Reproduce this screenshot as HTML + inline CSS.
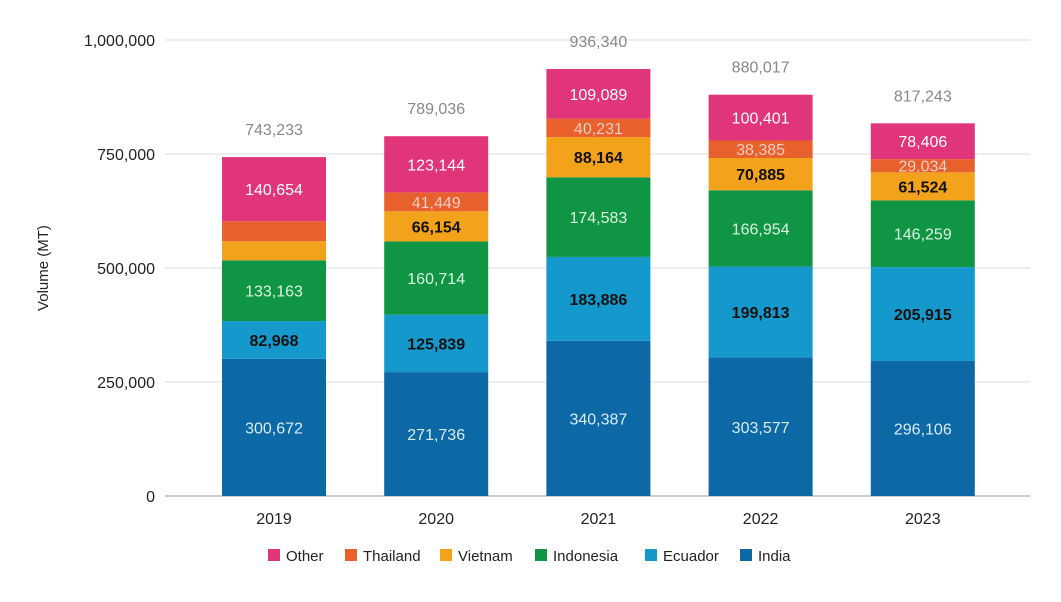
<!DOCTYPE html>
<html><head><meta charset="utf-8"><style>
body{margin:0;background:#fff;font-family:"Liberation Sans",Arial,sans-serif}
svg text{font-family:"Liberation Sans",Arial,sans-serif}
</style></head><body>
<svg id="c" width="1061" height="597"></svg>
<script>
const years=["2019","2020","2021","2022","2023"];
const india=[300672,271736,340387,303577,296106];
const ecuador=[82968,125839,183886,199813,205915];
const indonesia=[133163,160714,174583,166954,146259];
const vietnam=[42000,66154,88164,70885,61524];
const thailand=[43776,41449,40231,38385,29034];
const other=[140654,123144,109089,100401,78406];
const totals=[743233,789036,936340,880017,817243];
const showLabel={vietnam:[false,true,true,true,true],thailand:[false,true,true,true,true]};
const yTicks=[0,250000,500000,750000,1000000];
const seriesNames=["India","Ecuador","Indonesia","Vietnam","Thailand","Other"];
const seriesData=[india,ecuador,indonesia,vietnam,thailand,other];
const colors=["#0d68a6","#1599cd","#109545","#f2a31b","#e8602c","#e0357a"];
const labelColors=["#d8ecf8","#111","#d8f5e0","#111","#fff","#fff"];
const svg=document.getElementById('c');const NS="http://www.w3.org/2000/svg";
function el(t,a,p){const e=document.createElementNS(NS,t);for(const k in a)e.setAttribute(k,a[k]);(p||svg).appendChild(e);return e;}
const y0=496,yTop=40,vMax=1000000;
const y=v=>y0-(y0-yTop)*v/vMax;
const x=i=>222+i*162.2, bw=104;
const fmt=v=>v.toLocaleString('en-US');
yTicks.forEach(t=>{
 const g=el('line',{x1:165,x2:1030,y1:y(t),y2:y(t),stroke:t===0?'#999':'#ddd','stroke-width':1});
 
 
 const tx=el('text',{x:155,y:y(t)+6,'text-anchor':'end','font-size':16,fill:'#222'});tx.textContent=fmt(t);
 
 
});
const yt=el('text',{x:48,y:268,'text-anchor':'middle','font-size':15,fill:'#222',transform:'rotate(-90 48 268)'});yt.textContent="Volume (MT)";


years.forEach((yr,i)=>{
 let cum=0;
 seriesData.forEach((s,j)=>{
  const v=s[i];const top=y(cum+v),bot=y(cum);
  const r=el('rect',{x:x(i),y:top,width:bw,height:bot-top,fill:colors[j]});
  
  
  let show=true;
  if(j===3)show=showLabel.vietnam[i];
  if(j===4)show=showLabel.thailand[i];
  if(show){
   const t=el('text',{x:x(i)+bw/2,y:(top+bot)/2+6,'text-anchor':'middle','font-size':16,fill:labelColors[j]});
   if(j===4){t.setAttribute('stroke','#f08060');t.setAttribute('stroke-width','0.6');}
   if(j===1||j===3)t.setAttribute('font-weight','bold');
   t.textContent=fmt(v);
   
   
  }
  cum+=v;
 });
 const tt=el('text',{x:x(i)+bw/2,y:y(totals[i])-22,'text-anchor':'middle','font-size':16,fill:'#888'});tt.textContent=fmt(totals[i]);
 
 
 const xl=el('text',{x:x(i)+bw/2,y:524,'text-anchor':'middle','font-size':16,fill:'#222'});xl.textContent=yr;
 
 
});
const legend=[["Other",5,268],["Thailand",4,345],["Vietnam",3,440],["Indonesia",2,535],["Ecuador",1,645],["India",0,740]];
legend.forEach(([n,ci,lx])=>{
 const r=el('rect',{x:lx,y:549,width:12,height:12,fill:colors[ci]});
 
 
 const t=el('text',{x:lx+18,y:561,'font-size':15,fill:'#222'});t.textContent=n;
 
 
});
</script>
</body></html>
